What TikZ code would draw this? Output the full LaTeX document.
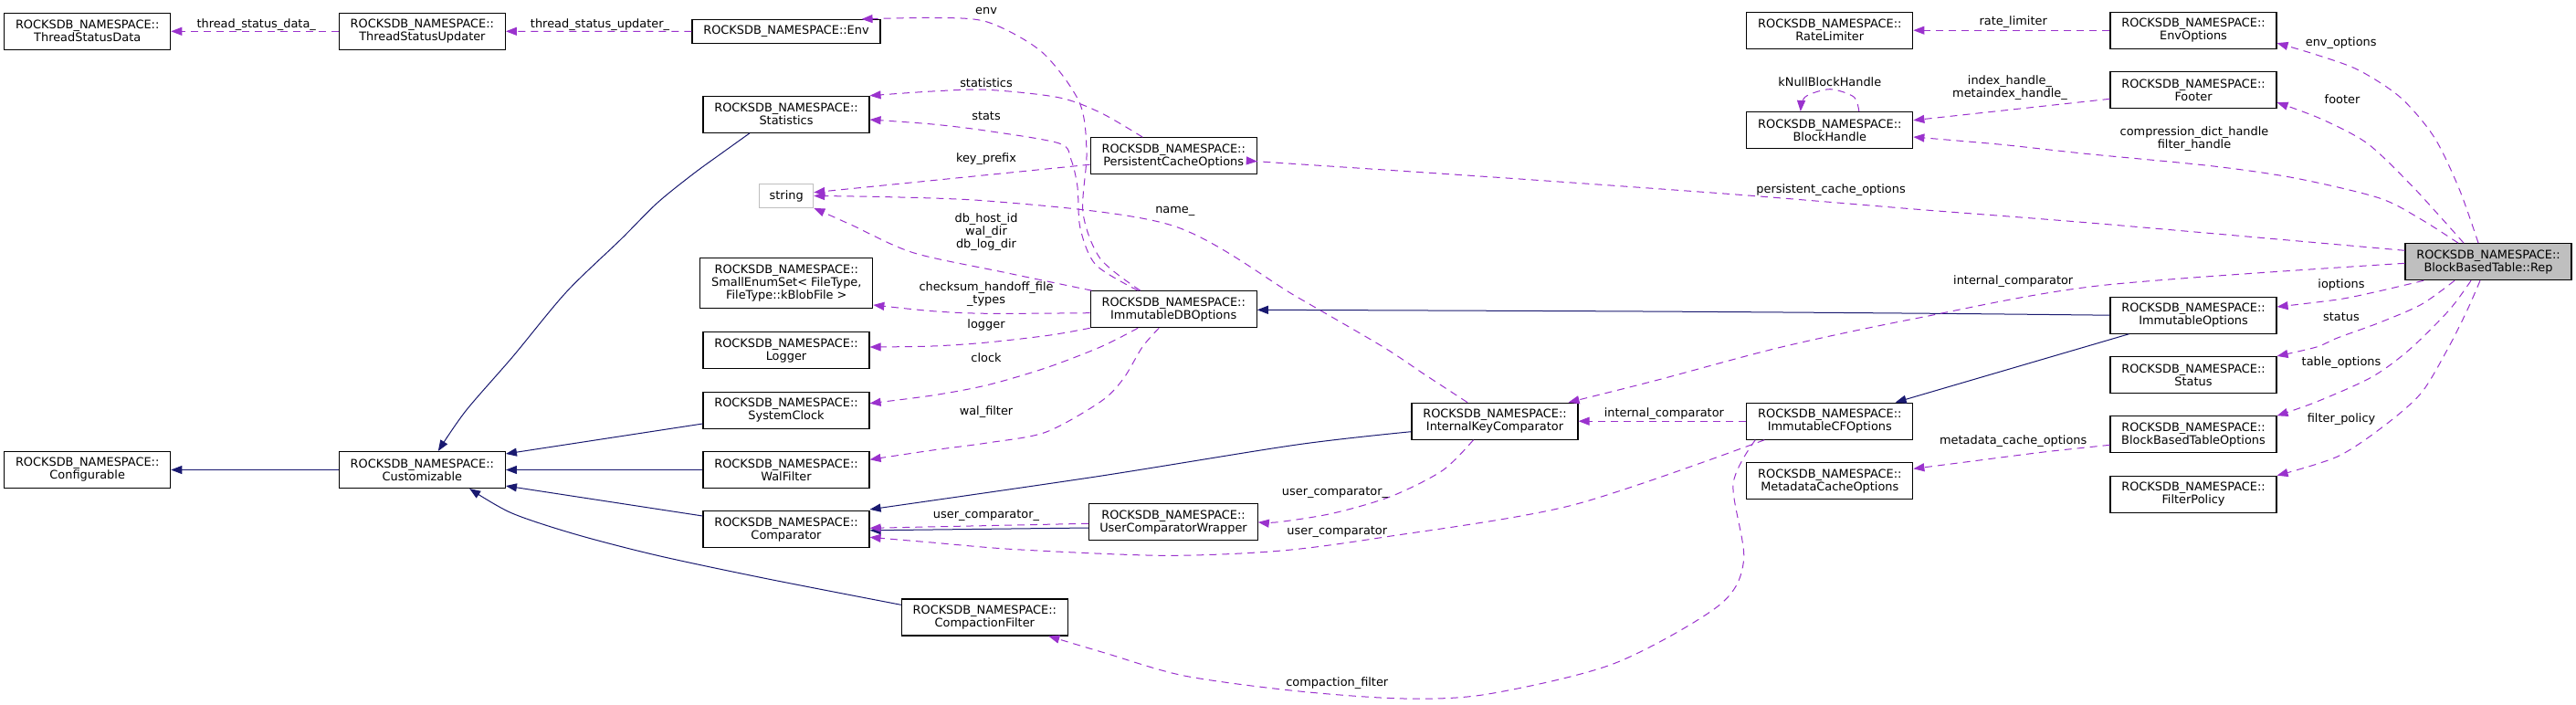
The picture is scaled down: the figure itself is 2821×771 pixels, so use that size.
\documentclass[tikz,border=0pt]{standalone}
\usepackage{fontspec}
\setmainfont{DejaVu Sans}
\usetikzlibrary{arrows.meta,calc}
\definecolor{usecol}{HTML}{9A32CD}
\definecolor{inhcol}{HTML}{191970}
\definecolor{greyc}{HTML}{BFBFBF}
\newcommand\dgfont{\fontsize{12.9pt}{14pt}\selectfont}
\tikzset{
  box/.style={draw=black, line width=1.1pt, fill=white, minimum width=182pt, minimum height=40pt, inner sep=0pt, align=center, font=\dgfont},
  lbl/.style={inner sep=0pt, align=center, font=\dgfont},
  use/.style={draw=usecol, line width=1pt, dash pattern=on 8pt off 6pt, -{Triangle[length=12pt,width=9pt]}},
  inh/.style={draw=inhcol, line width=1pt, -{Triangle[length=12pt,width=9pt]}},
}
\begin{document}
\begin{tikzpicture}[x=1pt,y=-1pt]
\fill[white] (0,0) rectangle (2821,771);
\useasboundingbox (0,0) rectangle (2821,771);

% nodes
\node[box] (tsd) at (95.7,34.3) {ROCKSDB\_NAMESPACE::\\ThreadStatusData};
\node[box] (tsu) at (462.4,34.3) {ROCKSDB\_NAMESPACE::\\ThreadStatusUpdater};
\node[box, minimum width=206pt, minimum height=26pt] (env) at (861,34.5) {ROCKSDB\_NAMESPACE::Env};
\node[box] (stat) at (861,125.3) {ROCKSDB\_NAMESPACE::\\Statistics};
\node[box, draw=greyc, minimum width=59pt, minimum height=25.6pt] (str) at (861.2,214.5) {string};
\node[box, minimum width=189pt, minimum height=55pt] (small) at (861.3,310.3) {ROCKSDB\_NAMESPACE::\\SmallEnumSet< FileType,\\FileType::kBlobFile >};
\node[box] (log) at (861,383.7) {ROCKSDB\_NAMESPACE::\\Logger};
\node[box] (clk) at (861,449.3) {ROCKSDB\_NAMESPACE::\\SystemClock};
\node[box] (wal) at (861,514.5) {ROCKSDB\_NAMESPACE::\\WalFilter};
\node[box] (comp) at (861,579.8) {ROCKSDB\_NAMESPACE::\\Comparator};
\node[box] (pco) at (1285.2,170.7) {ROCKSDB\_NAMESPACE::\\PersistentCacheOptions};
\node[box] (imdb) at (1285.2,338.7) {ROCKSDB\_NAMESPACE::\\ImmutableDBOptions};
\node[box, minimum width=184.5pt] (ucw) at (1285,571.8) {ROCKSDB\_NAMESPACE::\\UserComparatorWrapper};
\node[box] (cf) at (1078.3,676) {ROCKSDB\_NAMESPACE::\\CompactionFilter};
\node[box] (conf) at (95.7,514.5) {ROCKSDB\_NAMESPACE::\\Configurable};
\node[box] (cust) at (462.4,514.5) {ROCKSDB\_NAMESPACE::\\Customizable};
\node[box] (ikc) at (1637,461.2) {ROCKSDB\_NAMESPACE::\\InternalKeyComparator};
\node[box] (icfo) at (2003.8,461.2) {ROCKSDB\_NAMESPACE::\\ImmutableCFOptions};
\node[box] (mco) at (2003.8,526.7) {ROCKSDB\_NAMESPACE::\\MetadataCacheOptions};
\node[box] (rl) at (2003.8,33.2) {ROCKSDB\_NAMESPACE::\\RateLimiter};
\node[box] (bh) at (2003.8,142.5) {ROCKSDB\_NAMESPACE::\\BlockHandle};
\node[box] (envo) at (2402,33.2) {ROCKSDB\_NAMESPACE::\\EnvOptions};
\node[box] (foot) at (2402,98.7) {ROCKSDB\_NAMESPACE::\\Footer};
\node[box, fill=greyc] (rep) at (2725,286.7) {ROCKSDB\_NAMESPACE::\\BlockBasedTable::Rep};
\node[box] (io) at (2402,345.2) {ROCKSDB\_NAMESPACE::\\ImmutableOptions};
\node[box] (st) at (2402,410.5) {ROCKSDB\_NAMESPACE::\\Status};
\node[box] (bbto) at (2402,475.8) {ROCKSDB\_NAMESPACE::\\BlockBasedTableOptions};
\node[box] (fp) at (2402,541.2) {ROCKSDB\_NAMESPACE::\\FilterPolicy};

% endpoint coordinates
\coordinate (envS) at ($(imdb.north)+(-36.5,0)$);
\coordinate (envE) at ($(env.north east)+(-21,0)$);
\coordinate (statS) at ($(pco.north)+(-34,0)$);
\coordinate (stsS) at ($(imdb.north)+(-39,0)$);
\coordinate (stsE) at ($(stat.east)+(0,5.7)$);
\coordinate (kpS) at ($(pco.west)+(0,9.5)$);
\coordinate (kpE) at ($(str.east)+(0,-3.8)$);
\coordinate (nmS) at ($(ikc.north)+(-30,0)$);
\coordinate (dbS) at ($(imdb.north west)+(2,0)$);
\coordinate (ckS) at ($(imdb.west)+(0,4)$);
\coordinate (ckE) at ($(small.south east)+(0,-4.4)$);
\coordinate (lgE) at ($(log.east)+(0,-3.7)$);
\coordinate (clS) at ($(imdb.south)+(-39,0)$);
\coordinate (clE) at ($(clk.east)+(0,-7.6)$);
\coordinate (wfS) at ($(imdb.south)+(-16,0)$);
\coordinate (wfE) at ($(wal.east)+(0,-11.2)$);
\coordinate (ucS) at ($(ucw.west)+(0,1.5)$);
\coordinate (ucE) at ($(comp.east)+(0,-1.5)$);
\coordinate (uciS) at ($(ucw.west)+(0,6.2)$);
\coordinate (uciE) at ($(comp.east)+(0,1)$);
\coordinate (ikiS) at ($(ikc.west)+(0,11.5)$);
\coordinate (ikiE) at ($(comp.north east)+(0,-1.4)$);
\coordinate (iuS) at ($(ikc.south)+(-23.5,0)$);
\coordinate (cuS) at ($(icfo.south west)+(20,0)$);
\coordinate (cuE) at ($(comp.east)+(0,8.5)$);
\coordinate (cfS) at ($(icfo.south west)+(10,0)$);
\coordinate (cfE) at ($(cf.south east)+(-21.6,0)$);
\coordinate (mcS) at ($(bbto.west)+(0,11.5)$);
\coordinate (mcE) at ($(mco.east)+(0,-13.4)$);
\coordinate (ftS) at ($(foot.west)+(0,9.6)$);
\coordinate (ftE) at ($(bh.east)+(0,-10.8)$);
\coordinate (loopS) at ($(bh.north)+(32,0)$);
\coordinate (loopE) at ($(bh.north)+(-32,0)$);
\coordinate (eoS) at ($(rep.north)+(-11,0)$);
\coordinate (eoE) at ($(envo.south east)+(0,-6.6)$);
\coordinate (foS) at ($(rep.north)+(-27,0)$);
\coordinate (foE) at ($(foot.south east)+(0,-7)$);
\coordinate (cdS) at ($(rep.north)+(-33,0)$);
\coordinate (cdE) at ($(bh.east)+(0,7.5)$);
\coordinate (pcS) at ($(rep.west)+(0,-12.4)$);
\coordinate (pcE) at ($(pco.east)+(0,6)$);
\coordinate (icS) at ($(rep.west)+(0,1.6)$);
\coordinate (icE) at ($(ikc.north east)+(-11,0)$);
\coordinate (ioS) at ($(rep.south west)+(20.7,0)$);
\coordinate (ioE) at ($(io.east)+(0,-9.2)$);
\coordinate (stS) at ($(rep.south)+(-37,0)$);
\coordinate (toS) at ($(rep.south)+(-19,0)$);
\coordinate (fpS) at ($(rep.south)+(-9,0)$);
\coordinate (s2S) at ($(stat.south west)+(51.5,0)$);
\coordinate (s2E) at ($(cust.north)+(17.4,0)$);
\coordinate (scS) at ($(clk.west)+(0,14.7)$);
\coordinate (scE) at ($(cust.north east)+(0,3)$);
\coordinate (cmS) at ($(comp.west)+(0,-14.8)$);
\coordinate (cmE) at ($(cust.south east)+(0,-3)$);
\coordinate (cfiS) at ($(cf.west)+(0,-13.7)$);
\coordinate (cfiE) at ($(cust.south)+(51.8,0)$);
\coordinate (ioiE) at ($(imdb.east)+(0,0.6)$);
\coordinate (iocS) at ($(io.south west)+(21,0)$);
\coordinate (iocE) at ($(icfo.north east)+(-19.7,0)$);

% inheritance edges
\draw[inh] (cust.west) -- (conf.east);
\draw[inh] plot[smooth] coordinates {(s2S) (790,168) (759.7,190) (720,222) (680,262) (620,320) (562,390) (510,450) (s2E)};
\draw[inh] (scS) -- (scE);
\draw[inh] (wal.west) -- (cust.east);
\draw[inh] (cmS) -- (cmE);
\draw[inh] plot[smooth] coordinates {(cfiS) (837.7,633.3) (720,608.3) (630,585) (560,561.7) (cfiE)};
\draw[inh] plot[smooth] coordinates {(ikiS) (1420,487) (1200,522) (ikiE)};
\draw[inh] (uciS) -- (uciE);
\draw[inh] plot[smooth] coordinates {(io.west) (2120,343.3) (1800,341) (ioiE)};
\draw[inh] (iocS) -- (iocE);

% usage edges
\draw[use] (tsu.west) -- (tsd.east);
\draw[use] (env.west) -- (tsu.east);
\draw[use] plot[smooth] coordinates {(envS) (1205,283.3) (1186,233) (1190,167) (1182,112) (1141,57) (1081,24) (1021,19.5) (envE)};
\draw[use] plot[smooth] coordinates {(statS) (1205,123.3) (1159,106.7) (1081,98.3) (1021,100) (stat.north east)};
\draw[use] plot[smooth] coordinates {(stsS) (1200,290) (1183,250) (1180,205) (1173,175) (1160,157) (1081,143.3) (1021,136) (stsE)};
\draw[use] (kpS) -- (kpE);
\draw[use] plot[smooth] coordinates {(nmS) (1560,410) (1514.8,380) (1420,325) (1283,246.7) (1081,220) (str.east)};
\draw[use] plot[smooth] coordinates {(dbS) (1100,298.3) (1000,276.7) (933.3,246.7) (str.south east)};
\draw[use] plot[smooth] coordinates {(ckS) (1081,343.3) (1021.4,340.7) (ckE)};
\draw[use] plot[smooth] coordinates {(imdb.south west) (1150,367) (1081,375) (1021,379) (lgE)};
\draw[use] plot[smooth] coordinates {(clS) (1205,380) (1145,403) (1081,421.7) (1021,433) (clE)};
\draw[use] plot[smooth] coordinates {(wfS) (1251,380) (1230,415) (1205,440) (1145,473.3) (1081,485) (1021,493) (wfE)};
\draw[use] (ucS) -- (ucE);
\draw[use] plot[smooth] coordinates {(iuS) (1580,515) (1524,543.3) (1460,562) (1400,571.7) (ucw.east)};
\draw[use] plot[smooth] coordinates {(cuS) (1721.4,553.3) (1514.8,588.3) (1400,603.3) (1274,608.3) (1113,601.7) (1020,594) (cuE)};
\draw[use] (icfo.west) -- (ikc.east);
\draw[use] plot[smooth] coordinates {(cfS) (1898,530) (1909.6,613.3) (1882,663.3) (1767.3,726.7) (1629.6,760) (1537.7,765) (1420,756.7) (1296.9,740) (1210,715) (cfE)};
\draw[use] plot[smooth] coordinates {(mcS) (2238,495) (2160,505) (mcE)};
\draw[use] (envo.west) -- (rl.east);
\draw[use] (ftS) -- (ftE);
\draw[use] plot[smooth] coordinates {(loopS) (2030,106) (2003.8,97.7) (1977,106) (loopE)};
\draw[use] plot[smooth] coordinates {(eoS) (2693,206.7) (2665.5,150) (2628.7,106.7) (2582.7,76.7) (2536.8,60) (eoE)};
\draw[use] plot[smooth] coordinates {(foS) (2674.7,240) (2637.9,200) (2592,156.7) (2541.4,130) (foE)};
\draw[use] plot[smooth] coordinates {(cdS) (2651,240) (2605,216.7) (2513.2,195) (2421.4,181.7) (2283.7,168.3) (2191.8,158.3) (cdE)};
\draw[use] plot[smooth] coordinates {(pcS) (2300,245) (2100,229.3) (1905,213.3) (1650,195) (1400,178.3) (pcE)};
\draw[use] plot[smooth] coordinates {(icS) (2300,312.7) (2100,348.3) (1951,380) (1813,416.7) (icE)};
\draw[use] plot[smooth] coordinates {(ioS) (2600,320) (2560,328) (ioE)};
\draw[use] plot[smooth] coordinates {(stS) (2651.7,333.3) (2605.7,353.3) (2559.8,370) (2536.8,380) (st.north east)};
\draw[use] plot[smooth] coordinates {(toS) (2681.7,340) (2638,383.3) (2596.6,413.3) (2536.8,440) (bbto.north east)};
\draw[use] plot[smooth] coordinates {(fpS) (2701.7,340) (2681.6,380) (2651.7,430) (2610.3,466.7) (2559.7,500) (fp.north east)};

% labels
\node[lbl] (l1) at (280.7,26.7) {thread\_status\_data\_};
\node[lbl] (l2) at (657,26.7) {thread\_status\_updater\_};
\node[lbl] (l3) at (1080,11.7) {env};
\node[lbl] (l4) at (1080,90.7) {statistics};
\node[lbl] (l5) at (1080,126.7) {stats};
\node[lbl] (l6) at (1080,174.3) {key\_prefix};
\node[lbl] (l7) at (1286.8,231.7) {name\_};
\node[lbl] (l8) at (1080,254) {db\_host\_id\\wal\_dir\\db\_log\_dir};
\node[lbl] (l9) at (1080,321.7) {checksum\_handoff\_file\\\_types};
\node[lbl] (l10) at (1080,355.7) {logger};
\node[lbl] (l11) at (1080,391.7) {clock};
\node[lbl] (l12) at (1080,450.7) {wal\_filter};
\node[lbl] (l13) at (1080,564.3) {user\_comparator\_};
\node[lbl] (l14) at (1462,539) {user\_comparator\_};
\node[lbl] (l15) at (1464.3,582.7) {user\_comparator};
\node[lbl] (l16) at (1822.4,452.7) {internal\_comparator};
\node[lbl] (l17) at (1464.3,747.7) {compaction\_filter};
\node[lbl] (l18) at (2204.7,482.7) {metadata\_cache\_options};
\node[lbl] (l19) at (2204.7,24.3) {rate\_limiter};
\node[lbl] (l20) at (2201,96) {index\_handle\_\\metaindex\_handle\_};
\node[lbl] (l21) at (2003.8,89.3) {kNullBlockHandle};
\node[lbl] (l22) at (2403,151.7) {compression\_dict\_handle\\filter\_handle};
\node[lbl] (l23) at (2005.1,207.7) {persistent\_cache\_options};
\node[lbl] (l24) at (2204.7,308.3) {internal\_comparator};
\node[lbl] (l25) at (2563.7,46.7) {env\_options};
\node[lbl] (l26) at (2565,108.3) {footer};
\node[lbl] (l27) at (2564,311.7) {ioptions};
\node[lbl] (l28) at (2564,346.7) {status};
\node[lbl] (l29) at (2564,396.7) {table\_options};
\node[lbl] (l30) at (2564,459.3) {filter\_policy};
\end{tikzpicture}
\end{document}
